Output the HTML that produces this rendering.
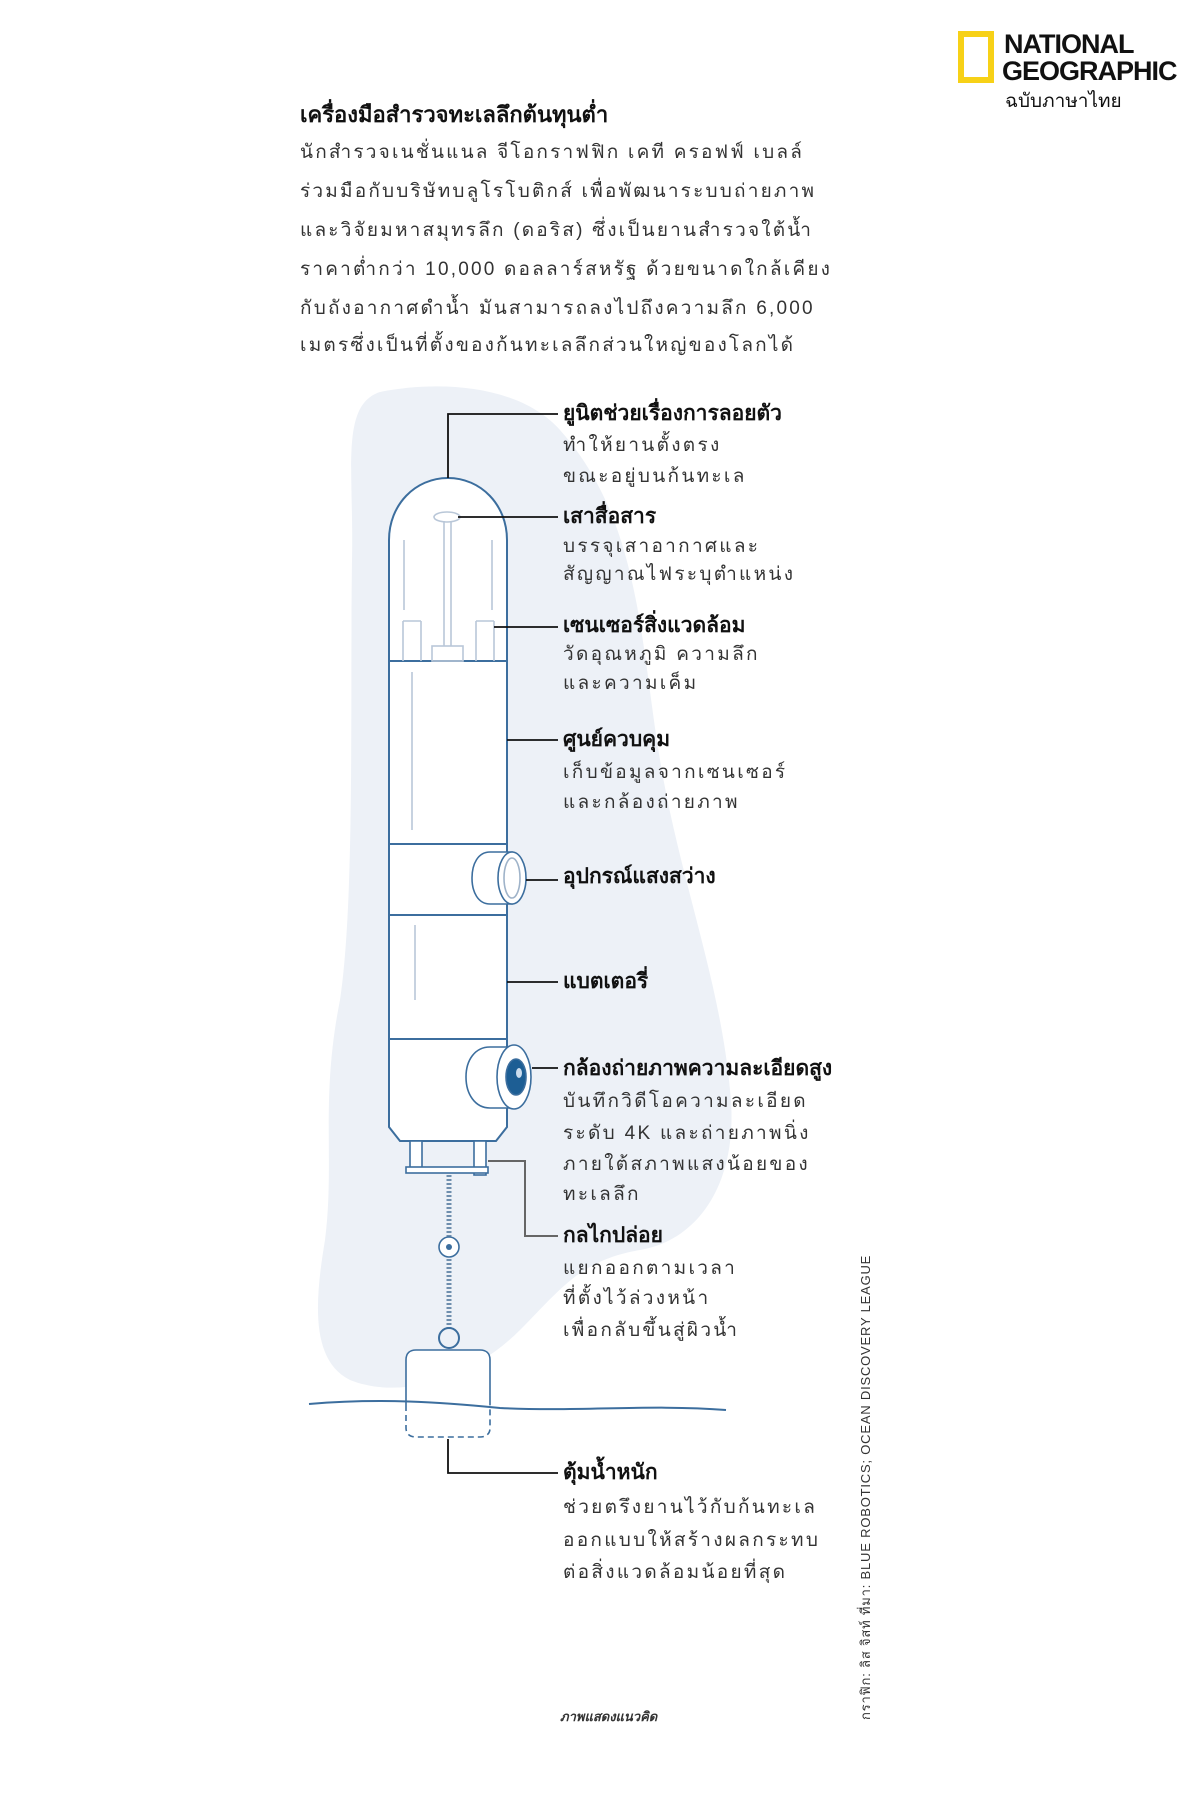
<!DOCTYPE html>
<html><head><meta charset="utf-8">
<style>
html,body{margin:0;padding:0;background:#fff;}
body{width:1201px;height:1800px;overflow:hidden;position:relative;font-family:"Liberation Sans","DejaVu Sans",sans-serif;}
svg{position:absolute;left:0;top:0;}
.t{font-family:"Liberation Sans","DejaVu Sans",sans-serif;fill:#222;}
.h{font-weight:bold;font-size:21px;fill:#111;}
.b{font-size:19px;fill:#333;letter-spacing:2.3px;}
</style></head>
<body>
<svg width="1201" height="1800" viewBox="0 0 1201 1800">
<path d="M380,392 C440,380 520,385 560,430 C640,520 640,640 660,760 C680,880 720,980 730,1090 C740,1180 700,1240 640,1250 C580,1260 560,1290 520,1330 C470,1380 400,1400 350,1380 C310,1360 315,1300 325,1240 C335,1160 320,1100 340,1000 C355,900 350,700 352,560 C354,470 340,405 380,392 Z" fill="#edf1f7"/>
<rect x="961" y="34" width="30" height="46" fill="none" stroke="#f7d117" stroke-width="6"/>
<text x="1004" y="53" class="t" style="font-weight:bold;font-size:27px;fill:#111;letter-spacing:-1px">NATIONAL</text>
<text x="1002" y="80" class="t" style="font-weight:bold;font-size:27px;fill:#111;letter-spacing:-1px">GEOGRAPHIC</text>
<text x="1005" y="107" class="t" style="font-size:19px;fill:#111">ฉบับภาษาไทย</text>
<text x="300" y="122" class="t" style="font-weight:bold;font-size:22px;fill:#111">เครื่องมือสำรวจทะเลลึกต้นทุนต่ำ</text>
<g class="t" style="font-size:19px;fill:#333;letter-spacing:2.2px">
<text x="300" y="158">นักสำรวจเนชั่นแนล  จีโอกราฟฟิก  เคที  ครอฟฟ์  เบลล์</text>
<text x="300" y="197">ร่วมมือกับบริษัทบลูโรโบติกส์  เพื่อพัฒนาระบบถ่ายภาพ</text>
<text x="300" y="236">และวิจัยมหาสมุทรลึก (ดอริส)  ซึ่งเป็นยานสำรวจใต้น้ำ</text>
<text x="300" y="275">ราคาต่ำกว่า 10,000 ดอลลาร์สหรัฐ  ด้วยขนาดใกล้เคียง</text>
<text x="300" y="314">กับถังอากาศดำน้ำ  มันสามารถลงไปถึงความลึก 6,000</text>
<text x="300" y="351">เมตรซึ่งเป็นที่ตั้งของก้นทะเลลึกส่วนใหญ่ของโลกได้</text>
</g>
<g fill="#fff" stroke="#3c6e9e" stroke-width="2">
<path d="M389,661 L389,540 C389,505 415,478 448,478 C481,478 507,505 507,540 L507,661 Z"/>
<rect x="389" y="661" width="118" height="183"/>
<rect x="389" y="844" width="118" height="71"/>
<rect x="389" y="915" width="118" height="124"/>
<path d="M389,1039 L507,1039 L507,1127 L496,1141 L400,1141 L389,1127 Z"/>
</g>
<g fill="none" stroke="#b9c7d8" stroke-width="1.6">
<line x1="403" y1="621" x2="403" y2="661"/><line x1="421" y1="621" x2="421" y2="661"/><line x1="403" y1="621" x2="421" y2="621"/>
<line x1="476" y1="621" x2="476" y2="661"/><line x1="494" y1="621" x2="494" y2="661"/><line x1="476" y1="621" x2="494" y2="621"/>
<rect x="432" y="646" width="31" height="15"/>
<line x1="444" y1="521" x2="444" y2="646"/><line x1="451" y1="521" x2="451" y2="646"/>
<ellipse cx="447" cy="517" rx="13" ry="5"/>
<path d="M404,540 L404,610" /><path d="M492,540 L492,610"/>
<line x1="412" y1="672" x2="412" y2="830"/>
<line x1="415" y1="925" x2="415" y2="1000"/>
</g>
<g stroke="#3c6e9e" stroke-width="1.6" fill="#fff">
<path d="M490,852 L512,852 L512,904 L490,904 C478,904 472,892 472,878 C472,864 478,852 490,852 Z"/>
<ellipse cx="512" cy="878" rx="14" ry="26"/>
<ellipse cx="512" cy="878" rx="8" ry="20" fill="none" stroke="#9fb3c9"/>
</g>
<g stroke="#3c6e9e" stroke-width="1.6" fill="#fff">
<path d="M490,1047 L514,1047 L514,1108 L490,1108 C475,1108 466,1094 466,1077 C466,1060 475,1047 490,1047 Z"/>
<ellipse cx="514" cy="1077" rx="17" ry="32"/>
<ellipse cx="516" cy="1077" rx="10" ry="18" fill="#1d5e94"/>
<ellipse cx="519" cy="1073" rx="3" ry="5" fill="#cde" stroke="none"/>
</g>
<g stroke="#3c6e9e" stroke-width="1.6" fill="#fff">
<rect x="410" y="1141" width="12" height="30"/>
<rect x="474" y="1141" width="12" height="34"/>
<rect x="406" y="1167" width="82" height="6"/>
</g>
<line x1="449" y1="1175" x2="449" y2="1330" stroke="#6f8fae" stroke-width="5" stroke-dasharray="2 2"/>
<circle cx="449" cy="1247" r="10" fill="#fff" stroke="#3c6e9e" stroke-width="1.6"/>
<circle cx="449" cy="1247" r="3" fill="#3c6e9e"/>
<circle cx="449" cy="1338" r="10" fill="none" stroke="#3c6e9e" stroke-width="2"/>
<path d="M406,1405 L406,1360 C406,1353 410,1350 416,1350 L480,1350 C486,1350 490,1353 490,1360 L490,1405" fill="#fff" stroke="#3c6e9e" stroke-width="1.6"/>
<path d="M406,1405 L406,1428 C406,1434 410,1437 416,1437 L480,1437 C486,1437 490,1434 490,1428 L490,1405" fill="none" stroke="#3c6e9e" stroke-width="1.6" stroke-dasharray="6 4"/>
<path d="M309,1404 C380,1398 440,1402 500,1408 C580,1412 650,1404 726,1410" fill="none" stroke="#3c6e9e" stroke-width="2"/>
<g fill="none" stroke="#111" stroke-width="1.8">
<polyline points="448,478 448,414 558,414"/>
<line x1="458" y1="517" x2="558" y2="517"/>
<line x1="494" y1="627" x2="558" y2="627"/>
<line x1="507" y1="740" x2="558" y2="740"/>
<line x1="526" y1="880" x2="558" y2="880"/>
<line x1="507" y1="982" x2="558" y2="982"/>
<line x1="532" y1="1068" x2="558" y2="1068"/>
<polyline points="448,1439 448,1473 558,1473"/>
</g>
<polyline points="488,1161 525,1161 525,1236 558,1236" fill="none" stroke="#666" stroke-width="2"/>
<g class="t">
<text x="563" y="420" class="h">ยูนิตช่วยเรื่องการลอยตัว</text>
<text x="563" y="451" class="b">ทำให้ยานตั้งตรง</text>
<text x="563" y="482" class="b">ขณะอยู่บนก้นทะเล</text>
<text x="563" y="523" class="h">เสาสื่อสาร</text>
<text x="563" y="552" class="b">บรรจุเสาอากาศและ</text>
<text x="563" y="580" class="b">สัญญาณไฟระบุตำแหน่ง</text>
<text x="563" y="632" class="h">เซนเซอร์สิ่งแวดล้อม</text>
<text x="563" y="660" class="b">วัดอุณหภูมิ  ความลึก</text>
<text x="563" y="689" class="b">และความเค็ม</text>
<text x="563" y="746" class="h">ศูนย์ควบคุม</text>
<text x="563" y="778" class="b">เก็บข้อมูลจากเซนเซอร์</text>
<text x="563" y="808" class="b">และกล้องถ่ายภาพ</text>
<text x="563" y="883" class="h">อุปกรณ์แสงสว่าง</text>
<text x="563" y="988" class="h">แบตเตอรี่</text>
<text x="563" y="1075" class="h">กล้องถ่ายภาพความละเอียดสูง</text>
<text x="563" y="1107" class="b">บันทึกวิดีโอความละเอียด</text>
<text x="563" y="1139" class="b">ระดับ 4K  และถ่ายภาพนิ่ง</text>
<text x="563" y="1170" class="b">ภายใต้สภาพแสงน้อยของ</text>
<text x="563" y="1200" class="b">ทะเลลึก</text>
<text x="563" y="1242" class="h">กลไกปล่อย</text>
<text x="563" y="1274" class="b">แยกออกตามเวลา</text>
<text x="563" y="1304" class="b">ที่ตั้งไว้ล่วงหน้า</text>
<text x="563" y="1336" class="b">เพื่อกลับขึ้นสู่ผิวน้ำ</text>
<text x="563" y="1479" class="h">ตุ้มน้ำหนัก</text>
<text x="563" y="1513" class="b">ช่วยตรึงยานไว้กับก้นทะเล</text>
<text x="563" y="1546" class="b">ออกแบบให้สร้างผลกระทบ</text>
<text x="563" y="1578" class="b">ต่อสิ่งแวดล้อมน้อยที่สุด</text>
<text x="560" y="1721" style="font-size:13px;font-style:italic;font-weight:bold;fill:#333">ภาพแสดงแนวคิด</text>
<text transform="translate(870,1720) rotate(-90)" style="font-size:13px;fill:#333;letter-spacing:0.8px">กราฟิก: ลิส จิสท์ ที่มา: BLUE ROBOTICS; OCEAN DISCOVERY LEAGUE</text>
</g>
</svg>
</body></html>
